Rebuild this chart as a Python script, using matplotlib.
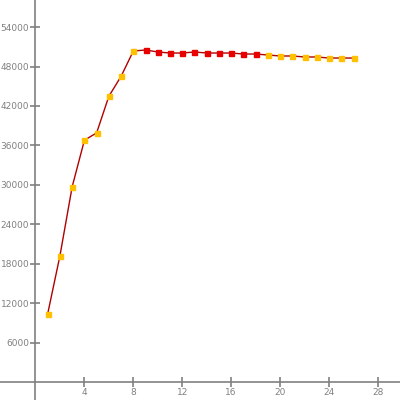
import matplotlib
matplotlib.use("Agg")
import matplotlib.pyplot as plt

# readings
xs = list(range(1, 27))
ys = [10380, 19200, 29700, 36780, 37900, 43470, 46510, 50360,
      50510, 50210, 50050, 50050, 50210, 50050, 50050, 50050,
      49900, 49900, 49750, 49600, 49600, 49450, 49450, 49290,
      49290, 49290]
# marker colour groups
groups = ["gold"] * 8 + ["red"] * 10 + ["gold"] * 8
palette = {"gold": "#FFC000", "red": "#E80000"}

x_ticks = [4, 8, 12, 16, 20, 24, 28]
y_ticks = [6000, 12000, 18000, 24000, 30000, 36000, 42000, 48000, 54000]

axis_grey = "#808080"

fig = plt.figure(figsize=(4, 4), dpi=100)
ax = fig.add_axes([0, 0, 1, 1])
ax.set_xlim(-2.9, 29.8)
ax.set_ylim(-2750, 58120)

ax.plot(xs, ys, color="#B00000", lw=1.0, zorder=2)
for x, y, g in zip(xs, ys, groups):
    ax.plot(x, y, marker="s", ms=3.6, color=palette[g], mec=palette[g], zorder=3)

for side in ("top", "right"):
    ax.spines[side].set_visible(False)
ax.spines["left"].set_position(("data", 0))
ax.spines["bottom"].set_position(("data", 0))
for side in ("left", "bottom"):
    ax.spines[side].set_color(axis_grey)
    ax.spines[side].set_linewidth(1.2)

ax.set_xticks(x_ticks)
ax.set_xticklabels([str(t) for t in x_ticks])
ax.set_yticks(y_ticks)
ax.set_yticklabels([str(t) for t in y_ticks])
ax.tick_params(direction="inout", length=7, width=1.2, color=axis_grey,
               labelcolor=axis_grey, labelsize=6.5)
ax.tick_params(axis="y", pad=1)
ax.tick_params(axis="x", pad=1)

fig.savefig("out.png", dpi=100, facecolor="white")
